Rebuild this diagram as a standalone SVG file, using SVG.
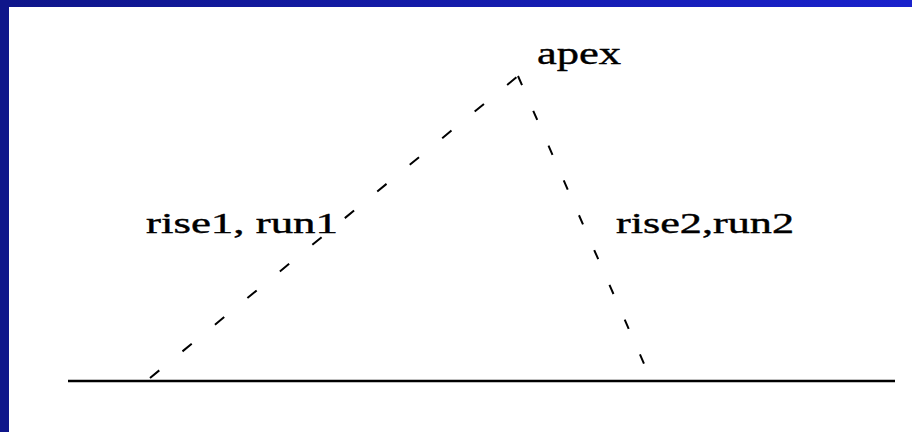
<svg xmlns="http://www.w3.org/2000/svg" width="912" height="432" viewBox="0 0 912 432">
  <defs>
    <linearGradient id="band" x1="0" y1="0" x2="1" y2="0">
      <stop offset="0" stop-color="#0f168a"/>
      <stop offset="1" stop-color="#1a22cc"/>
    </linearGradient>
    <style>
      .lbl { font-family: "Liberation Serif", "DejaVu Serif", serif; fill: #000; stroke: #000; stroke-width: 0.4; }
      .dash { stroke: #000; stroke-width: 2; fill: none; }
    </style>
  </defs>
  <rect x="0" y="0" width="912" height="432" fill="#ffffff"/>
  <rect x="0" y="0" width="912" height="7" fill="url(#band)"/>
  <rect x="0" y="0" width="9" height="432" fill="#0f168a"/>

  <g id="connectors">
    <line x1="68" y1="381" x2="895" y2="381" stroke="#000" stroke-width="2.5"/>
    <line class="dash" x1="150" y1="378" x2="518" y2="76" stroke-dasharray="12 30"/>
    <line class="dash" x1="518" y1="76" x2="645" y2="366" stroke-dasharray="10 28"/>
  </g>

  <g id="apex">
    <text class="lbl" x="537" y="64" font-size="32" textLength="84" lengthAdjust="spacingAndGlyphs">apex</text>
  </g>
  <g id="label1">
    <text class="lbl" x="146" y="233" font-size="30" textLength="192" lengthAdjust="spacingAndGlyphs">rise1, run1</text>
  </g>
  <g id="label2">
    <text class="lbl" x="616" y="233" font-size="30" textLength="178" lengthAdjust="spacingAndGlyphs">rise2,run2</text>
  </g>
</svg>
